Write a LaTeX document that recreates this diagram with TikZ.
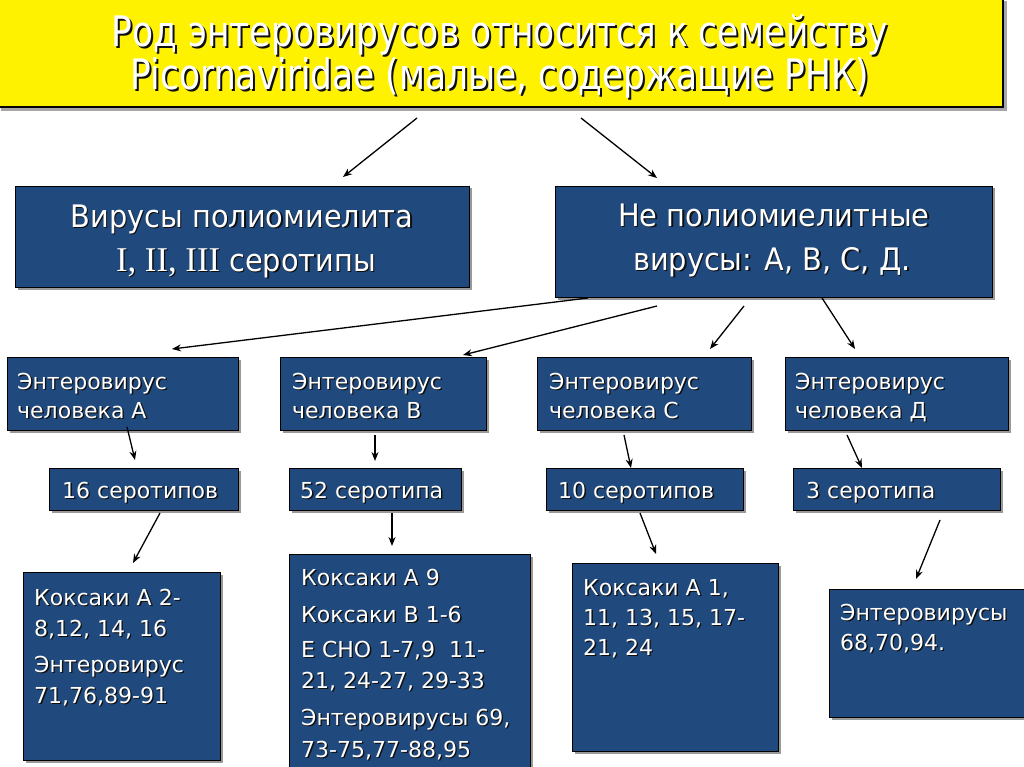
\documentclass[tikz,border=0pt]{standalone}
\usepackage{fontspec}
\setmainfont{DejaVu Sans}
\newfontfamily\titlefont{DejaVu Sans}[FakeStretch=0.82]
\newfontfamily\midfont{DejaVu Sans}[FakeStretch=0.93]
\newfontfamily\romanfont{Liberation Serif}[Scale=1.12]
\usetikzlibrary{arrows.meta,fit,shadows}
\definecolor{boxblue}{RGB}{32,73,125}
\definecolor{txtshadow}{RGB}{15,15,15}
\newcommand\shtxt[2][1.3pt]{\makebox[0pt][l]{\kern#1\raisebox{-#1}{\color{txtshadow}#2}}#2}
\begin{document}
\begin{tikzpicture}[x=1pt,y=-1pt,
  bx/.style={draw=black, line width=0.8pt, fill=boxblue, inner sep=0pt,
    drop shadow={shadow xshift=2.5pt, shadow yshift=-2.5pt, fill=black, opacity=0.4}},
  tx/.style={text=white, inner sep=0pt, font=\fontsize{22}{26}\selectfont, anchor=base west},
  big/.style={text=white, inner sep=0pt, font=\midfont\fontsize{31}{36}\selectfont, anchor=base},
  ttl/.style={text=white, inner sep=0pt, font=\titlefont\fontsize{42}{48}\selectfont, anchor=base},
  arr/.style={draw=black, line width=1.3pt, -{Stealth[length=9pt,width=7pt]}}]
\useasboundingbox (0,0) rectangle (1024,767);
\fill[white] (0,0) rectangle (1024,767);

% title
\node[fit={(-3,-3) (1003,107)}, draw=black, line width=1.2pt, fill=yellow, inner sep=0pt,
  drop shadow={shadow xshift=4pt, shadow yshift=-4pt, fill=black, opacity=0.35}] (title) {};
\node[ttl] (title1) at (500,47) {\shtxt[2pt]{Род энтеровирусов относится к семейству}};
\node[ttl] (title2) at (500,90) {\shtxt[2pt]{Picornaviridae (малые, содержащие РНК)}};

% second level
\node[bx, fit={(15,186) (469,287)}] (polio) {};
\node[big] (polio1) at (242,227) {\shtxt{Вирусы полиомиелита}};
\node[big] (polio2) at (246,271) {\shtxt{{\romanfont I, II, III} серотипы}};

\node[bx, fit={(555,186) (992,297)}] (nonpolio) {};
\node[big] (np1) at (774,226) {\shtxt{Не полиомиелитные}};
\node[big] (np2) at (772,270) {\shtxt{вирусы: А, В, С, Д.}};

% third level
\node[bx, fit={(7,357) (238,430)}] (evA) {};
\node[tx] (evA1) at (17,389) {\shtxt{Энтеровирус}};
\node[tx] (evA2) at (17,418) {\shtxt{человека А}};
\node[bx, fit={(280,357) (486,430)}] (evB) {};
\node[tx] (evB1) at (292,389) {\shtxt{Энтеровирус}};
\node[tx] (evB2) at (292,418) {\shtxt{человека В}};
\node[bx, fit={(537,357) (751,430)}] (evC) {};
\node[tx] (evC1) at (549,389) {\shtxt{Энтеровирус}};
\node[tx] (evC2) at (549,418) {\shtxt{человека С}};
\node[bx, fit={(785,357) (1008,430)}] (evD) {};
\node[tx] (evD1) at (795,389) {\shtxt{Энтеровирус}};
\node[tx] (evD2) at (795,418) {\shtxt{человека Д}};

% serotype counts
\node[bx, fit={(49,468) (238,510)}] (sA) {};
\node[tx] (sA1) at (62,498) {\shtxt{16 серотипов}};
\node[bx, fit={(289,468) (461,510)}] (sB) {};
\node[tx] (sB1) at (300,498) {\shtxt{52 серотипа}};
\node[bx, fit={(546,468) (743,510)}] (sC) {};
\node[tx] (sC1) at (558,498) {\shtxt{10 серотипов}};
\node[bx, fit={(793,468) (1000,510)}] (sD) {};
\node[tx] (sD1) at (806,498) {\shtxt{3 серотипа}};

% bottom lists
\node[bx, fit={(23,572) (220,760)}] (lA) {};
\node[tx] (lA1) at (34,605) {\shtxt{Коксаки А 2-}};
\node[tx] (lA2) at (34,636) {\shtxt{8,12, 14, 16}};
\node[tx] (lA3) at (34,672) {\shtxt{Энтеровирус}};
\node[tx] (lA4) at (34,703) {\shtxt{71,76,89-91}};

\node[bx, fit={(289,554) (530,775)}] (lB) {};
\node[tx] (lB1) at (301,585) {\shtxt{Коксаки А 9}};
\node[tx] (lB2) at (301,622) {\shtxt{Коксаки В 1-6}};
\node[tx] (lB3) at (301,657) {\shtxt{Е СНО 1-7,9\ \ 11-}};
\node[tx] (lB4) at (301,688) {\shtxt{21, 24-27, 29-33}};
\node[tx] (lB5) at (301,725) {\shtxt{Энтеровирусы 69,}};
\node[tx] (lB6) at (301,757) {\shtxt{73-75,77-88,95}};

\node[bx, fit={(572,563) (778,751)}] (lC) {};
\node[tx] (lC1) at (583,595) {\shtxt{Коксаки А 1,}};
\node[tx] (lC2) at (583,625) {\shtxt{11, 13, 15, 17-}};
\node[tx] (lC3) at (583,655) {\shtxt{21, 24}};

\node[bx, fit={(829,589) (1030,717)}] (lD) {};
\node[tx] (lD1) at (840,620) {\shtxt{Энтеровирусы}};
\node[tx] (lD2) at (840,650) {\shtxt{68,70,94.}};

% arrow end points
\coordinate (t1s) at (417,118); \coordinate (t1e) at (343,177);
\coordinate (t2s) at (581,118); \coordinate (t2e) at (657,178);
\coordinate (nAs) at (588,298); \coordinate (nAe) at (172,349);
\coordinate (nBs) at (657,306); \coordinate (nBe) at (463,355);
\coordinate (nCs) at (744,306); \coordinate (nCe) at (710,349);
\coordinate (nDs) at (822,298); \coordinate (nDe) at (855,349);
\coordinate (aAs) at (127,427); \coordinate (aAe) at (135,460);
\coordinate (aBs) at (375,435); \coordinate (aBe) at (375,461);
\coordinate (aCs) at (624,435); \coordinate (aCe) at (631,468);
\coordinate (aDs) at (847,435); \coordinate (aDe) at (862,468);
\coordinate (bAs) at (160,513); \coordinate (bAe) at (133,563);
\coordinate (bBs) at (392,513); \coordinate (bBe) at (392,546);
\coordinate (bCs) at (640,513); \coordinate (bCe) at (656,554);
\coordinate (bDs) at (940,520); \coordinate (bDe) at (916,579);

\draw[arr] (t1s) -- (t1e);
\draw[arr] (t2s) -- (t2e);
\draw[arr] (nAs) -- (nAe);
\draw[arr] (nBs) -- (nBe);
\draw[arr] (nCs) -- (nCe);
\draw[arr] (nDs) -- (nDe);
\draw[arr] (aAs) -- (aAe);
\draw[arr] (aBs) -- (aBe);
\draw[arr] (aCs) -- (aCe);
\draw[arr] (aDs) -- (aDe);
\draw[arr] (bAs) -- (bAe);
\draw[arr] (bBs) -- (bBe);
\draw[arr] (bCs) -- (bCe);
\draw[arr] (bDs) -- (bDe);
\end{tikzpicture}
\end{document}
